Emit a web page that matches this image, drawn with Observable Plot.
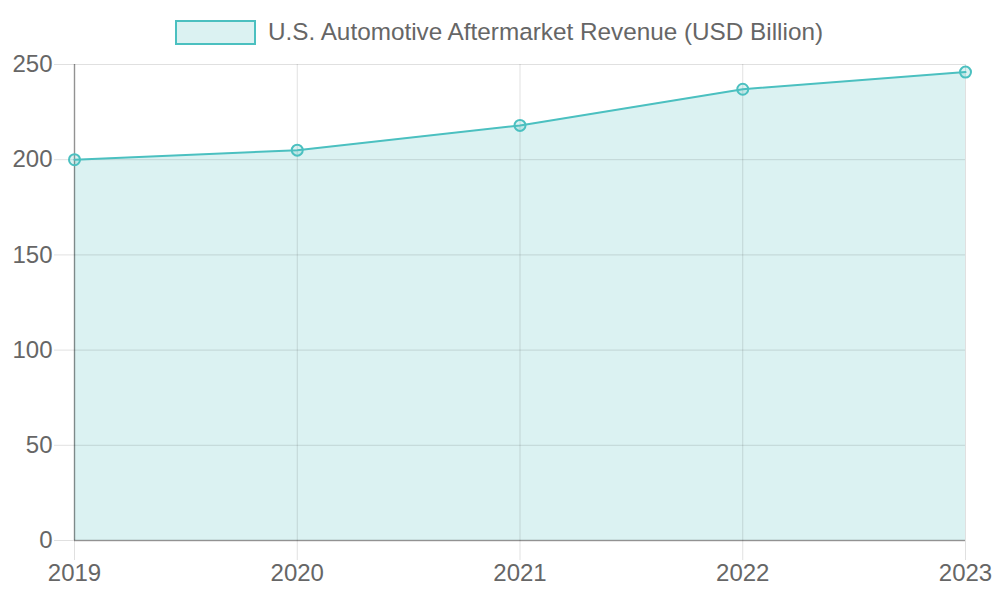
<!DOCTYPE html>
<html>
<head>
<meta charset="utf-8">
<script src="https://cdn.jsdelivr.net/npm/d3@7"></script>
<script src="https://cdn.jsdelivr.net/npm/@observablehq/plot@0.6"></script>
<style>
  html, body { margin: 0; padding: 0; background: #fff; }
  body { width: 1000px; height: 600px; overflow: hidden; font-family: "Liberation Sans", Arial, sans-serif; }
  #legend { height: 40px; display: flex; justify-content: center; align-items: flex-start; position: relative; z-index: 1; }
  #legend .item { display: flex; align-items: center; margin-top: 19px; margin-left: -2px; }
  #legend .box { width: 77px; height: 21px; border: 2px solid rgb(75,192,192); background: rgba(75,192,192,0.2); }
  #legend .label { margin-left: 12px; font-size: 24.3px; color: #666; line-height: 26px; }
  #chart svg { display: block; }
</style>
</head>
<body>
<div id="legend"><div class="item"><div class="box"></div><div class="label" id="legendLabel"></div></div></div>
<div id="chart"></div>
<script>
const seriesName = "U.S. Automotive Aftermarket Revenue (USD Billion)";
const years = [2019, 2020, 2021, 2022, 2023];
const revenue = [200, 205, 218, 237, 246];
const yTicks = [0, 50, 100, 150, 200, 250];

document.getElementById("legendLabel").textContent = seriesName;

const data = years.map((y, i) => ({year: y, value: revenue[i]}));
const teal = "rgb(75,192,192)";
const tealFill = "rgba(75,192,192,0.2)";

const chart = Plot.plot({
  width: 1000,
  height: 560,
  marginTop: 24,
  marginBottom: 60,
  marginLeft: 74,
  marginRight: 35,
  style: {fontFamily: "Liberation Sans, Arial, sans-serif", fontSize: "24px", color: "#666", background: "transparent", overflow: "visible"},
  x: {domain: [2019, 2023], ticks: years, tickFormat: "d", label: null},
  y: {domain: [0, 250], ticks: yTicks, label: null},
  marks: [
    Plot.areaY(data, {x: "year", y: "value", fill: tealFill}),
    Plot.gridX(years, {stroke: "#000", strokeOpacity: 0.12, strokeWidth: 1}),
    Plot.gridY(yTicks, {stroke: "#000", strokeOpacity: 0.12, strokeWidth: 1}),
    Plot.axisX(years, {tickSize: 20, tickPadding: 3, stroke: "#000", strokeOpacity: 0.12, fill: "#666", fontSize: 24, tickFormat: "d", label: null}),
    Plot.axisY(yTicks, {tickSize: 20, tickPadding: 2, stroke: "#000", strokeOpacity: 0.12, fill: "#666", fontSize: 24, label: null}),
    Plot.ruleX([years[0]], {stroke: "#000", strokeOpacity: 0.35, strokeWidth: 1.5}),
    Plot.ruleY([yTicks[0]], {stroke: "#000", strokeOpacity: 0.35, strokeWidth: 1.5}),
    Plot.lineY(data, {x: "year", y: "value", stroke: teal, strokeWidth: 2}),
    Plot.dot(data, {x: "year", y: "value", r: 5.5, stroke: teal, strokeWidth: 2, fill: tealFill})
  ]
});
document.getElementById("chart").appendChild(chart);
</script>
</body>
</html>
